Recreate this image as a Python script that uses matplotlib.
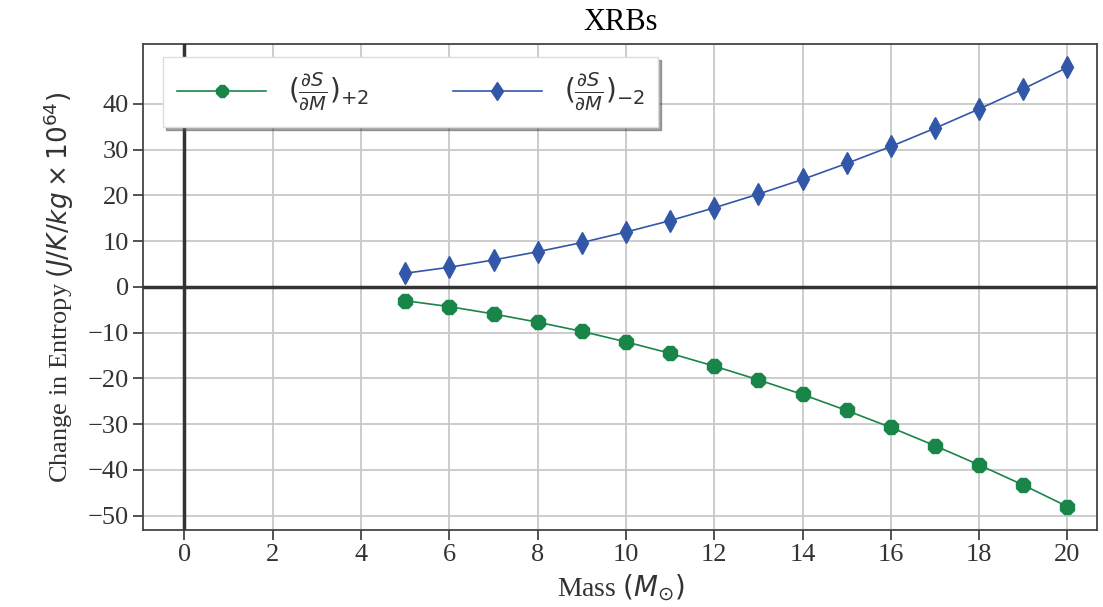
import numpy as np
import matplotlib.pyplot as plt

# ==========================
# Data
# ==========================

mass = [5, 6, 7, 8, 9, 10, 11, 12, 13, 14, 15, 16, 17, 18, 19, 20]

ds_minus2 = [3.0, 4.3, 5.9, 7.7, 9.7, 12.0, 14.5, 17.3,
             20.3, 23.5, 27.0, 30.7, 34.7, 38.9, 43.3, 48.0]

ds_plus2 = [-3.0, -4.3, -5.9, -7.7, -9.7, -12.0, -14.5, -17.3,
            -20.3, -23.5, -27.0, -30.7, -34.7, -38.9, -43.3, -48.0]

xticks = [0, 2, 4, 6, 8, 10, 12, 14, 16, 18, 20]
yticks = [-50, -40, -30, -20, -10, 0, 10, 20, 30, 40]

# ==========================
# Plot Styling
# ==========================

plt.rcParams['mathtext.fontset'] = 'dejavusans'

fig = plt.figure(figsize=(11.03, 6.07), dpi=100)
ax = fig.add_axes([0.130, 0.127, 0.865, 0.8005])

green = '#1a8549'
blue = '#3357a8'

ax.plot(
    mass,
    ds_plus2,
    color=green,
    linewidth=1.2,
    marker='8',
    markersize=11,
    label=r'$(\frac{\partial S}{\partial M})_{+2}$',
    zorder=4
)

ax.plot(
    mass,
    ds_minus2,
    color=blue,
    linewidth=1.2,
    marker='d',
    markersize=11,
    label=r'$(\frac{\partial S}{\partial M})_{-2}$',
    zorder=4
)

# Axis lines through origin
ax.axhline(0, color='#333333', linewidth=2.5, zorder=3)
ax.axvline(0, color='#333333', linewidth=2.5, zorder=3)

ax.set_xlim(-0.93, 20.68)
ax.set_ylim(-53.1, 53.1)
ax.set_xticks(xticks)
ax.set_yticks(yticks)

ax.grid(True, color='#c8c8c8', linewidth=1.3, zorder=0)
ax.set_axisbelow(True)

for sp in ax.spines.values():
    sp.set_color('#444444')
    sp.set_linewidth(1.3)

ax.tick_params(direction='out', length=7, width=1.3, color='#444444',
               labelsize=19, labelcolor='#333333')
for lab in ax.get_xticklabels() + ax.get_yticklabels():
    lab.set_family('Liberation Serif')

# Labels
ax.set_title('XRBs', fontsize=22, family='Liberation Serif', pad=10)
ax.set_xlabel(r'Mass $(M_{\odot})$', fontsize=20,
              family='Liberation Serif', color='#333333', labelpad=4)
ax.set_ylabel(r'Change in Entropy $(J/K/kg \times 10^{64})$', fontsize=19,
              family='Liberation Serif', color='#333333', labelpad=8)

# Legend
leg = ax.legend(
    loc='upper left',
    ncol=2,
    fontsize=20,
    frameon=True,
    shadow=True,
    fancybox=False,
    markerscale=0.85,
    handlelength=3.2,
    columnspacing=3.0,
    borderpad=0.5,
    borderaxespad=0,
    bbox_to_anchor=(0.021, 0.973)
)
leg.get_frame().set_edgecolor('#dddddd')
for t in leg.get_texts():
    t.set_color('#333333')

fig.savefig('out.png', dpi=100)
